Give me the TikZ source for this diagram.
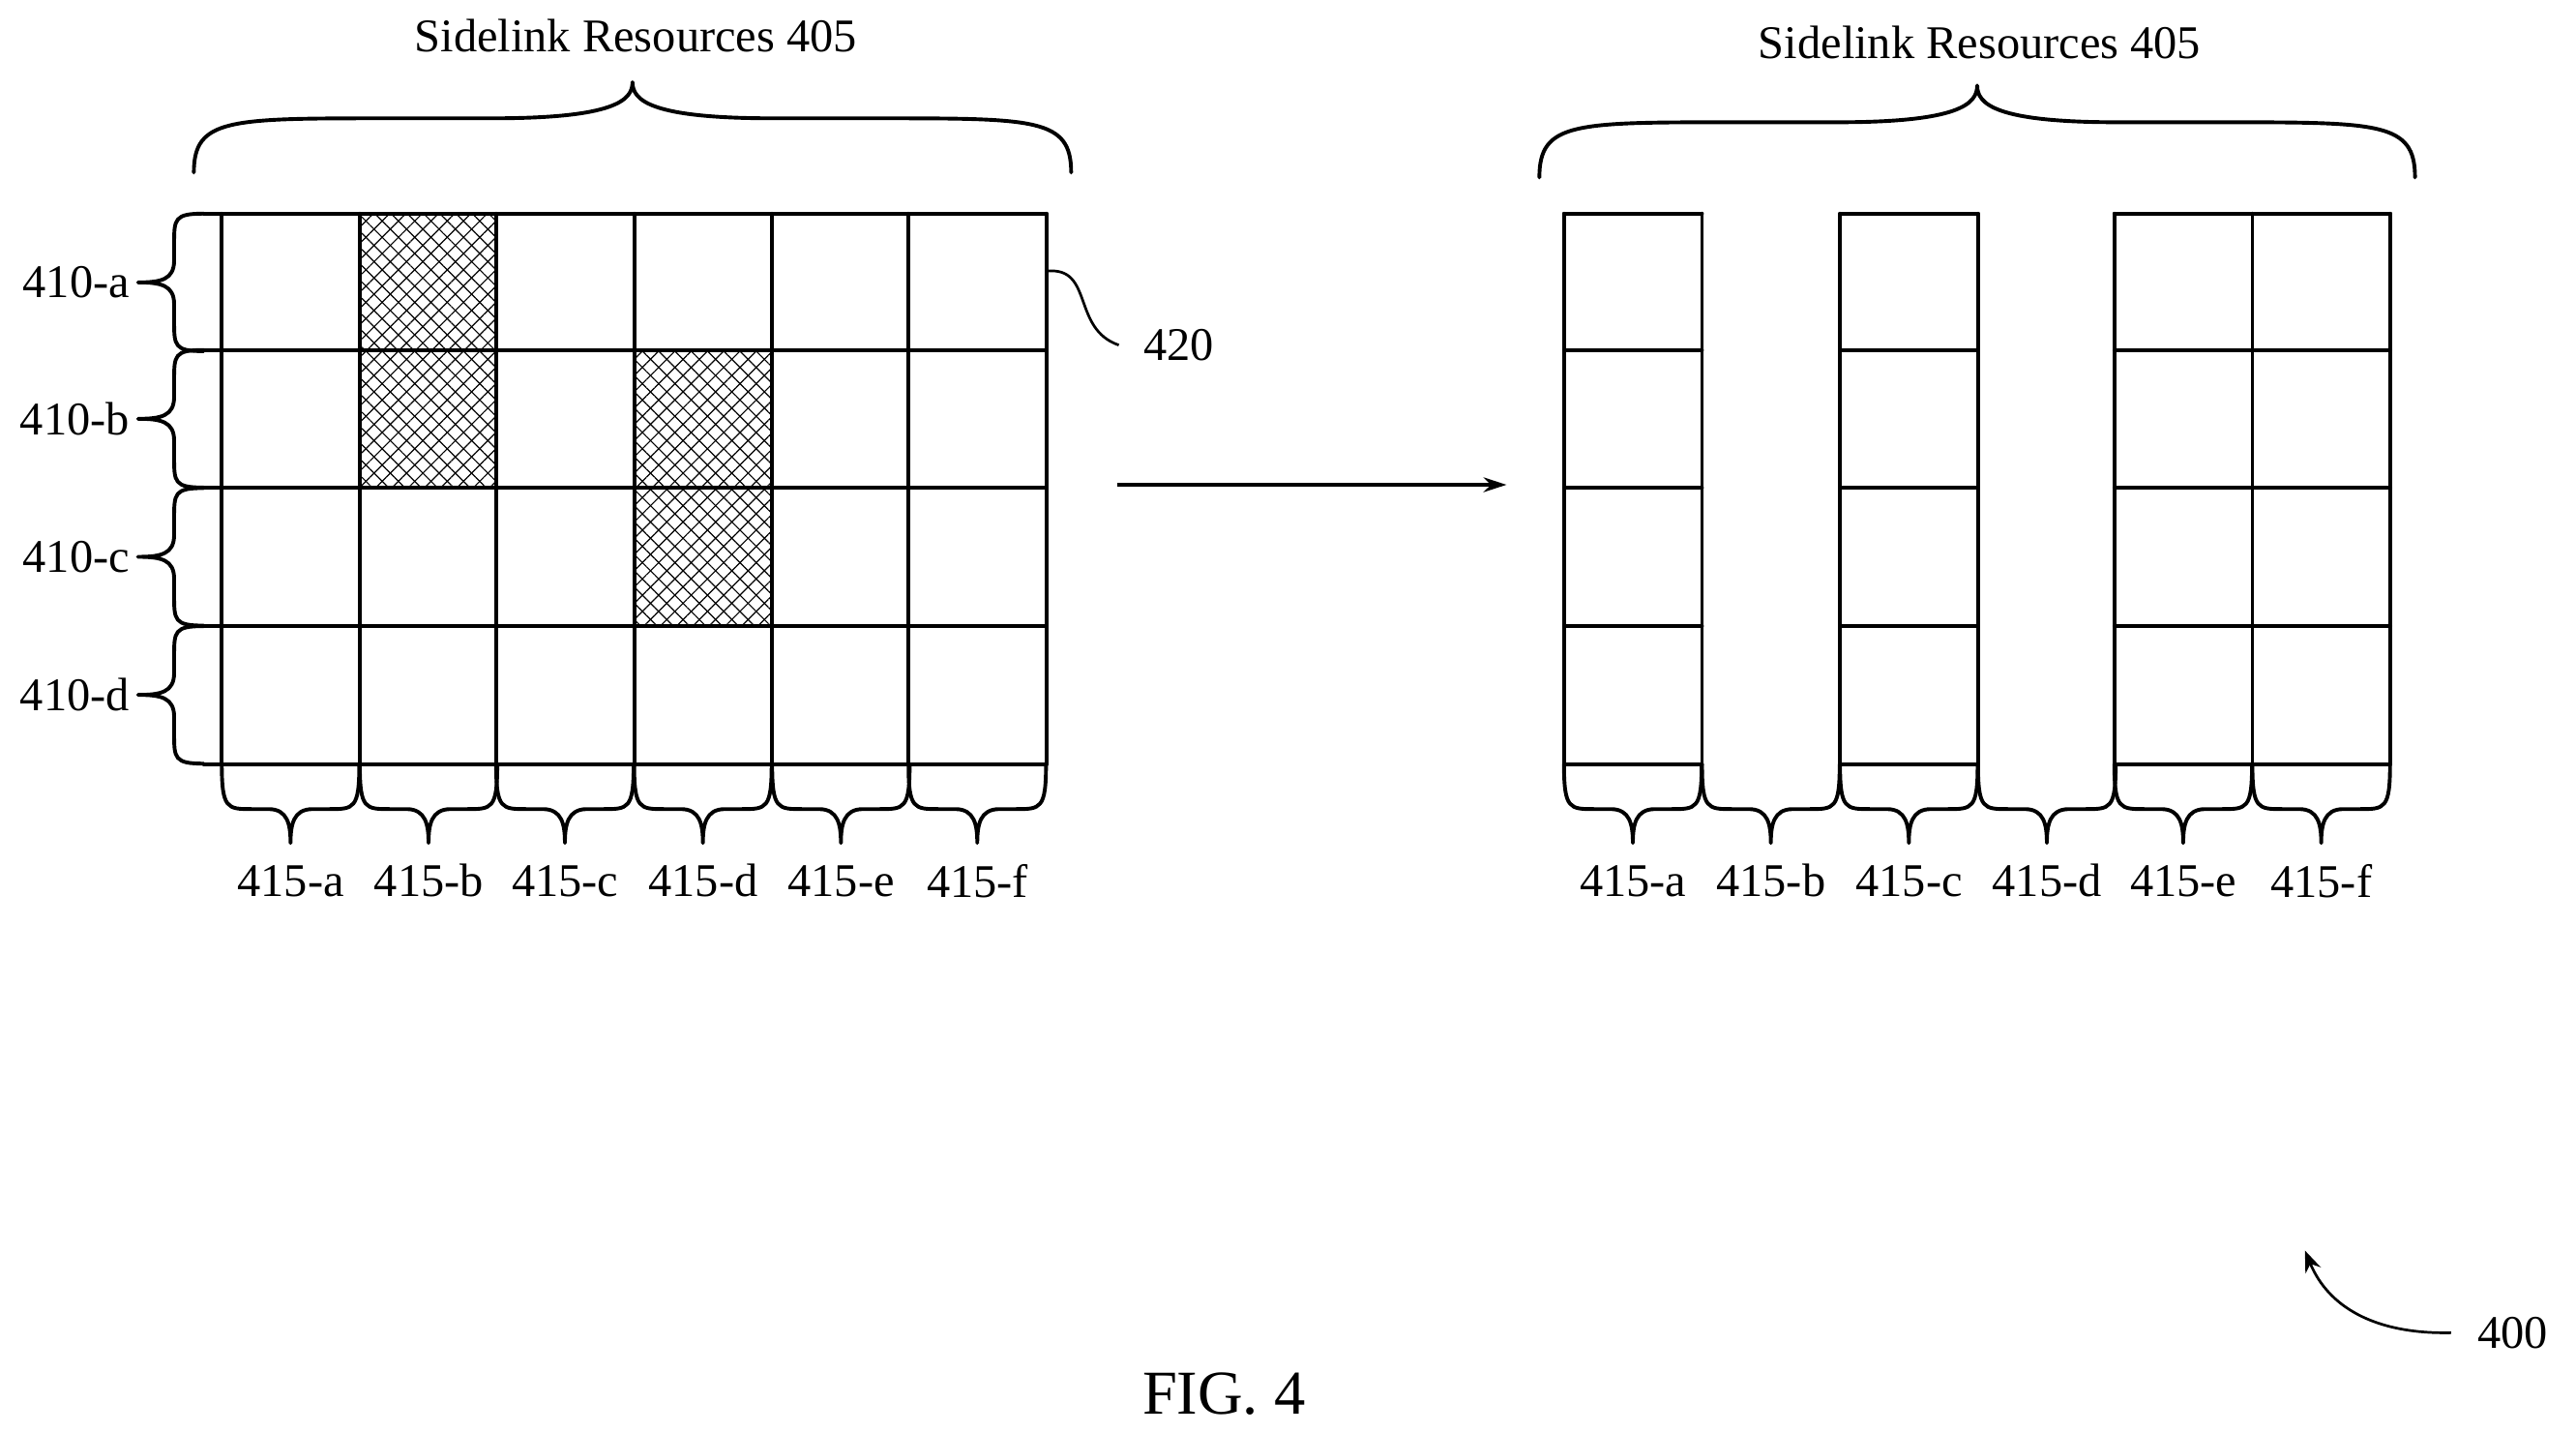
\documentclass[tikz,border=0pt]{standalone}
\usepackage{fontspec}
\setmainfont{Liberation Serif}
\usetikzlibrary{patterns.meta,arrows.meta}
\def\bf{0.6}
\newcommand\myhbrace[4]{% x1 x2 y d
  \pgfmathsetmacro\w{#2-#1}\pgfmathsetmacro\xm{(#1+#2)/2}\pgfmathsetmacro\h{\bf*#4}
  \draw[ln] (#1,#3) .. controls (#1,#3+\h) and (#1+0.04*\w,#3+\h) .. (#1+0.22*\w,#3+\h) -- (\xm-0.16*\w,#3+\h)
    .. controls (\xm-0.02*\w,#3+\h) and (\xm,#3+\h+0.2*#4) .. (\xm,#3+#4)
    .. controls (\xm,#3+\h+0.2*#4) and (\xm+0.02*\w,#3+\h) .. (\xm+0.16*\w,#3+\h) -- (#2-0.22*\w,#3+\h)
    .. controls (#2-0.04*\w,#3+\h) and (#2,#3+\h) .. (#2,#3);}
\newcommand\myvbrace[4]{% y1 y2 x d
  \pgfmathsetmacro\w{#2-#1}\pgfmathsetmacro\ym{(#1+#2)/2}\pgfmathsetmacro\h{\bf*#4}
  \draw[ln] (#3,#1) .. controls (#3+\h,#1) and (#3+\h,#1+0.04*\w) .. (#3+\h,#1+0.22*\w) -- (#3+\h,\ym-0.16*\w)
    .. controls (#3+\h,\ym-0.02*\w) and (#3+\h+0.2*#4,\ym) .. (#3+#4,\ym)
    .. controls (#3+\h+0.2*#4,\ym) and (#3+\h,\ym+0.02*\w) .. (#3+\h,\ym+0.16*\w) -- (#3+\h,#2-0.22*\w)
    .. controls (#3+\h,#2-0.04*\w) and (#3+\h,#2) .. (#3,#2);}
\begin{document}
\begin{tikzpicture}[x=1pt,y=-1pt,
  ln/.style={line width=2.3pt,line join=round,line cap=round},
  lbl/.style={font=\fontsize{28.5}{32}\selectfont,inner sep=0pt},
  hatch/.style={pattern={Lines[angle=45,distance=7pt,line width=0.7pt]}},
  hatch2/.style={pattern={Lines[angle=-45,distance=7pt,line width=0.7pt]}}]
\useasboundingbox (0,0) rectangle (1568,872);
\foreach \x/\y in {219/130,219/213,386/213,386/297}{
  \fill[hatch] (\x,\y) rectangle ++(83.5,83.7);
  \fill[hatch2] (\x,\y) rectangle ++(83.5,83.7);}
\foreach \y in {130,213,297,381,465} \draw[ln] (124,\y) -- (637,\y);
\foreach \x in {135,219,302,386,470,553,637} \draw[ln] (\x,130) -- (\x,465);
\def\bf{0.6}
\myhbrace{118}{652}{105}{-55}
\node[lbl] (t1) at (387,22) {Sidelink Resources 405};
\def\bf{0.45}
\foreach \y/\l [count=\i] in {130/a,213/b,297/c,381/d}{
  \pgfmathsetmacro\yy{\y+83.7}
  \myvbrace{\y}{\yy}{124}{-40}
  \node[lbl,anchor=east] (r\l) at (79,\y+42) {410-\l};}
\def\bf{0.57}
\foreach \x/\l in {135/a,219/b,302/c,386/d,470/e,553/f}{
  \pgfmathsetmacro\xx{\x+83.7}
  \myhbrace{\x}{\xx}{465}{48}
  \node[lbl] (c\l) at (\x+42,536) {415-\l};}
\coordinate (g420) at (637,165);
\node[lbl,anchor=west] (n420) at (696,210) {420};
\draw[line width=1.6pt] (g420) .. controls (666,162) and (652,200) .. ([xshift=-15pt]n420.west);
\coordinate (a1) at (680,295); \coordinate (a2) at (917,295);
\draw[line width=2pt,-{Stealth[length=14pt,width=9pt]}] (a1) -- (a2);
\foreach \xa/\xb in {952/1036,1120/1204,1287/1455}{
  \foreach \y in {130,213,297,381,465} \draw[ln] (\xa,\y) -- (\xb,\y);
  \draw[ln] (\xa,130) -- (\xa,465); \draw[ln] (\xb,130) -- (\xb,465);}
\draw[ln] (1371,130) -- (1371,465);
\def\bf{0.6}
\myhbrace{937}{1470}{108}{-56}
\node[lbl] (t2) at (1205,26) {Sidelink Resources 405};
\def\bf{0.57}
\foreach \x/\l in {952/a,1036/b,1120/c,1204/d,1287/e,1371/f}{
  \pgfmathsetmacro\xx{\x+83.8}
  \myhbrace{\x}{\xx}{465}{48}
  \node[lbl] (d\l) at (\x+42,536) {415-\l};}
\node[lbl,anchor=west] (n400) at (1508,811) {400};
\coordinate (p400) at (1403,761);
\draw[line width=1.6pt,-{Stealth[length=13pt,width=10pt]}] ([xshift=-16pt]n400.west) .. controls (1445,812) and (1417,795) .. (p400);
\node[font=\fontsize{38}{42}\selectfont,inner sep=0pt] (fig) at (745,848) {FIG. 4};
\end{tikzpicture}
\end{document}
